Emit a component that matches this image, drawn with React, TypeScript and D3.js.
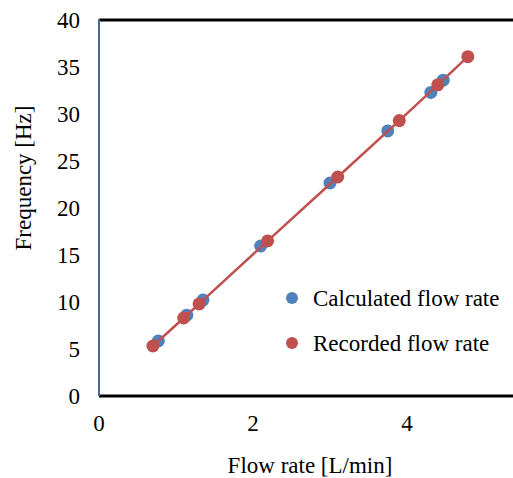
import React from "react";
import * as d3 from "d3";

const calcX = [0.77, 1.14, 1.35, 2.1, 3.0, 3.75, 4.31, 4.47];
const calcY = [5.85, 8.6, 10.2, 15.96, 22.66, 28.2, 32.3, 33.6];
const recX = [0.7, 1.1, 1.3, 2.19, 3.1, 3.9, 4.4, 4.79];
const recY = [5.32, 8.3, 9.8, 16.5, 23.3, 29.3, 33.1, 36.1];
const xTicks = [0, 2, 4];
const yTicks = [0, 5, 10, 15, 20, 25, 30, 35, 40];
const seriesNames = ["Calculated flow rate", "Recorded flow rate"];
const colors = ["#4F81BD", "#C0504D"];

export default function App() {
  const W = 513, H = 478;
  const left = 99, top = 20, bottom = 396;
  const x = d3.scaleLinear().domain([0, 2]).range([left, 253]);
  const y = d3.scaleLinear().domain([0, 40]).range([bottom, top]);
  const line = d3.line<number>().x((_, i) => x(recX[i])).y((d) => y(d));
  const fs = 23;
  return (
    <svg width={W} height={H} style={{ position: "absolute", left: 0, top: 0, fontFamily: "Liberation Serif, serif" }}>
      <rect width={W} height={H} fill="#fff" />
      <line x1={left} x2={W} y1={top} y2={top} stroke="#000" strokeWidth={3} />
      <line x1={left} x2={W} y1={bottom} y2={bottom} stroke="#000" strokeWidth={3} />
      <line x1={left} x2={left} y1={top - 1} y2={bottom} stroke="#4a6a9c" strokeWidth={2} />
      {yTicks.map((t) => (
        <text key={t} x={80} y={y(t)} dy="0.35em" textAnchor="end" fontSize={fs}>{t}</text>
      ))}
      {xTicks.map((t) => (
        <text key={t} x={x(t)} y={423} dy="0.35em" textAnchor="middle" fontSize={fs}>{t}</text>
      ))}
      <text x={310} y={465} dy="0.35em" textAnchor="middle" fontSize={fs}>Flow rate [L/min]</text>
      <text transform={`translate(23,178) rotate(-90)`} dy="0.35em" textAnchor="middle" fontSize={fs}>Frequency [Hz]</text>
      {calcY.map((v, i) => (
        <circle key={"c" + i} cx={x(calcX[i])} cy={y(v)} r={6.5} fill={colors[0]} />
      ))}
      <path d={line(recY) || ""} fill="none" stroke={colors[1]} strokeWidth={2.5} />
      {recY.map((v, i) => (
        <circle key={"r" + i} cx={x(recX[i])} cy={y(v)} r={6.5} fill={colors[1]} />
      ))}
      {seriesNames.map((n, i) => (
        <g key={n} transform={`translate(0,${298 + i * 45})`}>
          <circle cx={292} cy={0} r={6} fill={colors[i]} />
          <text x={313} y={0} dy="0.35em" fontSize={fs}>{n}</text>
        </g>
      ))}
    </svg>
  );
}
